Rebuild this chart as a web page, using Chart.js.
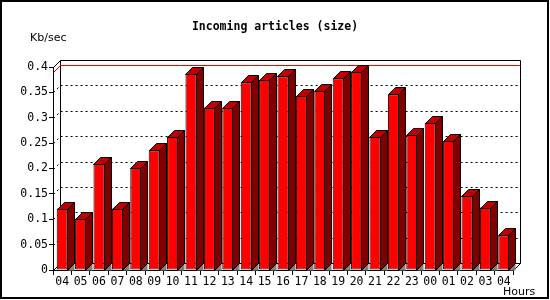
<!DOCTYPE html>
<html>
<head>
<meta charset="utf-8">
<script src="https://cdn.jsdelivr.net/npm/chart.js@4/dist/chart.umd.min.js"></script>
<style>
  html, body { margin: 0; padding: 0; background: #fff; }
  canvas { display: block; }
</style>
</head>
<body>
<canvas id="size-chart" width="550" height="300"></canvas>
<script>
// Data
var hours = ['04', '05', '06', '07', '08', '09', '10', '11', '12', '13', '14', '15', '16',
             '17', '18', '19', '20', '21', '22', '23', '00', '01', '02', '03', '04'];
var sizeKb = [0.121, 0.101, 0.209, 0.121, 0.201, 0.236, 0.263, 0.386, 0.320, 0.319, 0.370, 0.375, 0.382,
              0.343, 0.353, 0.378, 0.391, 0.263, 0.346, 0.266, 0.290, 0.254, 0.146, 0.123, 0.068];
var yTicks = [0, 0.05, 0.1, 0.15, 0.2, 0.25, 0.3, 0.35, 0.4];

var depth = 7;
var monoFont = 'DejaVu Sans Mono';

function px(v) { return Math.round(v) + 0.5; }

// back wall, dotted grid and max line
var wallPlugin = {
  id: 'wall',
  beforeDatasetsDraw: function (chart) {
    var ctx = chart.ctx, xs = chart.scales.x, ys = chart.scales.y;
    var l = px(xs.left), r = px(xs.right);
    var top = px(ys.getPixelForValue(yTicks[yTicks.length - 1]));
    var bot = px(ys.getPixelForValue(0));
    ctx.save();
    ctx.lineWidth = 1;
    ctx.strokeStyle = '#000';
    ctx.beginPath();
    ctx.moveTo(l, top); ctx.lineTo(l + depth, top - depth);
    ctx.lineTo(r + depth, top - depth); ctx.lineTo(r + depth, bot - depth);
    ctx.lineTo(r, bot);
    ctx.moveTo(l + depth, top - depth); ctx.lineTo(l + depth, bot - depth);
    ctx.lineTo(r + depth, bot - depth);
    ctx.moveTo(l, bot); ctx.lineTo(l + depth, bot - depth);
    ctx.stroke();

    ctx.setLineDash([2, 3]);
    yTicks.forEach(function (v) {
      if (v === 0 || v === yTicks[yTicks.length - 1]) return;
      var y = px(ys.getPixelForValue(v));
      ctx.beginPath();
      ctx.moveTo(l, y); ctx.lineTo(l + depth, y - depth);
      ctx.lineTo(r + depth, y - depth);
      ctx.stroke();
    });
    ctx.setLineDash([]);

    var maxVal = Math.max.apply(null, sizeKb);
    var my = px(ys.getPixelForValue(maxVal));
    ctx.strokeStyle = '#ff0000';
    ctx.beginPath();
    ctx.moveTo(l, my); ctx.lineTo(l + depth, my - depth);
    ctx.lineTo(r + depth, my - depth);
    ctx.stroke();
    ctx.restore();
  },
  afterDatasetsDraw: function (chart) {
    var ctx = chart.ctx;
    var meta = chart.getDatasetMeta(0);
    ctx.save();
    ctx.lineWidth = 1;
    ctx.strokeStyle = '#000';
    meta.data.forEach(function (bar) {
      var p = bar.getProps(['x', 'y', 'base', 'width'], true);
      var x1 = px(p.x - p.width / 2), x2 = px(p.x + p.width / 2) - 1;
      var y = px(p.y), b = px(p.base);
      // floor shadow
      ctx.fillStyle = '#808080';
      ctx.beginPath();
      ctx.moveTo(x2, b); ctx.lineTo(x2 + depth, b - depth); ctx.lineTo(x2 + depth, b);
      ctx.closePath();
      ctx.fill();
      // side
      ctx.fillStyle = '#800000';
      ctx.beginPath();
      ctx.moveTo(x2, y); ctx.lineTo(x2 + depth, y - depth);
      ctx.lineTo(x2 + depth, b - depth); ctx.lineTo(x2, b);
      ctx.closePath();
      ctx.fill(); ctx.stroke();
      // top
      ctx.fillStyle = '#c00000';
      ctx.beginPath();
      ctx.moveTo(x1, y); ctx.lineTo(x1 + depth, y - depth);
      ctx.lineTo(x2 + depth, y - depth); ctx.lineTo(x2, y);
      ctx.closePath();
      ctx.fill(); ctx.stroke();
    });
    ctx.restore();
  },
  afterDraw: function (chart) {
    var ctx = chart.ctx;
    ctx.save();
    ctx.fillStyle = '#000';
    ctx.textBaseline = 'middle';
    ctx.textAlign = 'center';
    ctx.font = 'bold 11.5px "' + monoFont + '"';
    ctx.fillText('Incoming articles (size)', 275, 27);
    ctx.textAlign = 'left';
    ctx.font = '11px "DejaVu Sans"';
    ctx.fillText('Kb/sec', 30, 38);
    ctx.fillText('Hours', 503, 292);
    ctx.lineWidth = 2;
    ctx.strokeStyle = '#000';
    ctx.strokeRect(1, 1, 547, 297);
    ctx.restore();
  }
};

var ctx = document.getElementById('size-chart').getContext('2d');
var sizeChart = new Chart(ctx, {
  type: 'bar',
  data: {
    labels: hours,
    datasets: [{
      label: 'Incoming articles (size)',
      data: sizeKb,
      backgroundColor: '#ff0000',
      borderColor: '#000',
      borderWidth: 1,
      borderSkipped: false,
      barPercentage: 0.6,
      categoryPercentage: 1
    }]
  },
  options: {
    responsive: false,
    animation: false,
    layout: {
      padding: { top: 67, right: 37, bottom: 0, left: 0 }
    },
    scales: {
      x: {
        afterFit: function (s) { s.height = 30; },
        grid: { drawOnChartArea: false, tickLength: 5, color: '#000', offset: true },
        border: { color: '#000' },
        ticks: {
          color: '#000', padding: 0, autoSkip: false, maxRotation: 0,
          font: { family: monoFont, size: 11.5 }
        }
      },
      y: {
        min: 0,
        max: yTicks[yTicks.length - 1],
        afterFit: function (s) { s.width = 53; },
        afterBuildTicks: function (s) {
          s.ticks = yTicks.map(function (v) { return { value: v }; });
        },
        grid: { drawOnChartArea: false, tickLength: 4, color: '#000' },
        border: { color: '#000' },
        ticks: {
          color: '#000', padding: 1,
          font: { family: monoFont, size: 11.5 },
          callback: function (v) { return String(parseFloat(Number(v).toFixed(2))); }
        }
      }
    },
    plugins: {
      legend: { display: false },
      tooltip: { enabled: false }
    }
  },
  plugins: [wallPlugin]
});
</script>
</body>
</html>
